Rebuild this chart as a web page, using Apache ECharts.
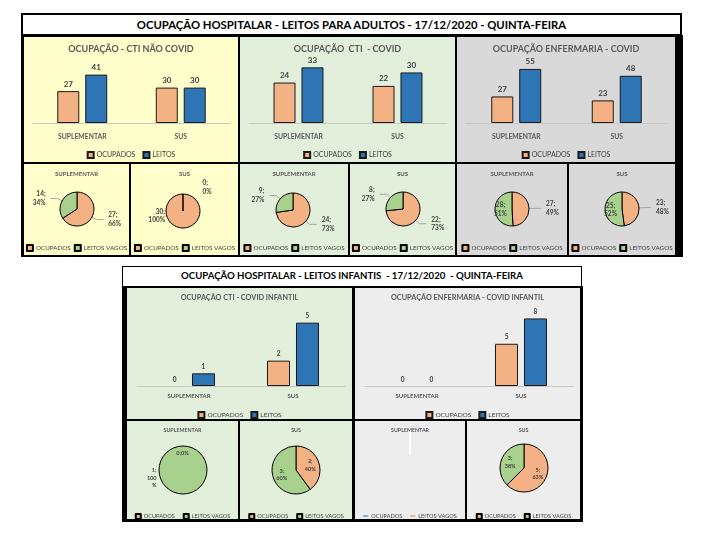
<!DOCTYPE html>
<html>
<head>
<meta charset="utf-8">
<title>Ocupação hospitalar</title>
<script src="https://cdn.jsdelivr.net/npm/echarts@6/dist/echarts.min.js"></script>
<style>
    body { margin: 0; width: 701px; height: 535px; background: #fff; position: relative; overflow: hidden; font-family: Lato, sans-serif; }
    .box { position: absolute; }
    .frame { position: absolute; background: #000; }
    .head { position: absolute; box-sizing: border-box; border: 2px solid #000; background: #fff; text-align: center; font-weight: bold; color: #000; white-space: pre; }
</style>
</head>
<body>
<!-- adultos -->
<div class="head" style="left:21px;top:13px;width:661px;height:23px;font-size:11.3px;line-height:19px;">OCUPAÇÃO HOSPITALAR - LEITOS PARA ADULTOS - 17/12/2020 - QUINTA-FEIRA</div>
<div class="frame" style="left:21px;top:35px;width:662px;height:222px;"></div>
<div id="bar1" class="box" style="left:24px;top:37px;width:214px;height:125px;"></div>
<div id="pie1" class="box" style="left:24px;top:164px;width:105px;height:91px;"></div>
<div id="pie2" class="box" style="left:131px;top:164px;width:107px;height:91px;"></div>
<div id="bar2" class="box" style="left:240px;top:37px;width:215px;height:125px;"></div>
<div id="pie3" class="box" style="left:240px;top:164px;width:108px;height:91px;"></div>
<div id="pie4" class="box" style="left:350px;top:164px;width:105px;height:91px;"></div>
<div id="bar3" class="box" style="left:457px;top:37px;width:218px;height:125px;"></div>
<div id="pie5" class="box" style="left:457px;top:164px;width:110px;height:91px;"></div>
<div id="pie6" class="box" style="left:569px;top:164px;width:106px;height:91px;"></div>

<!-- infantis -->
<div class="head" style="left:122px;top:266px;width:460px;height:21px;font-size:9.6px;line-height:17px;border-width:1.5px;">OCUPAÇÃO HOSPITALAR - LEITOS INFANTIS  - 17/12/2020  - QUINTA-FEIRA</div>
<div class="frame" style="left:122px;top:286px;width:461px;height:236px;"></div>
<div id="bar4" class="box" style="left:127px;top:288px;width:225px;height:131px;"></div>
<div id="pie7" class="box" style="left:127px;top:421px;width:111px;height:98px;"></div>
<div id="pie8" class="box" style="left:240px;top:421px;width:112px;height:98px;"></div>
<div id="bar5" class="box" style="left:355px;top:288px;width:225px;height:131px;"></div>
<div id="pie9" class="box" style="left:355px;top:421px;width:110px;height:98px;"></div>
<div id="pie10" class="box" style="left:467px;top:421px;width:113px;height:98px;"></div>

<script type="text/javascript">
    var categorias = ['SUPLEMENTAR', 'SUS'];

    // adultos
    var ctiNaoCovidOcupados = [27, 30];
    var ctiNaoCovidLeitos = [41, 30];
    var ctiNaoCovidVagos = [14, 0];

    var ctiCovidOcupados = [24, 22];
    var ctiCovidLeitos = [33, 30];
    var ctiCovidVagos = [9, 8];

    var enfCovidOcupados = [27, 23];
    var enfCovidLeitos = [55, 48];
    var enfCovidVagos = [28, 25];

    // infantis
    var ctiInfOcupados = [0, 2];
    var ctiInfLeitos = [1, 5];
    var ctiInfVagos = [1, 3];

    var enfInfOcupados = [0, 5];
    var enfInfLeitos = [0, 8];
    var enfInfVagos = [0, 3];

    var LARANJA = '#F4B183';
    var AZUL = '#2E75B6';
    var VERDE = '#A9D18E';
    var FONTE = 'Lato';

    // estilos dos blocos
    var barTopo = {
        grid: { left: 9, right: 8, top: 27, bottom: 39 },
        titleTop: 8, titleSize: 9, legendTop: 109, legendSize: 7, icon: 6, legendGap: 7,
        labelSize: 8, catSize: 6.8, catMargin: 10, barWidth: 22, barGap: '27%'
    };
    var barBaixo = {
        grid: { left: 10, right: 7, top: 22, bottom: 33 },
        titleTop: 6, titleSize: 7.3, legendTop: 118, legendSize: 6.5, icon: 6, legendGap: 7,
        labelSize: 6.5, catSize: 6, catMargin: 7, barWidth: 23, barGap: '26%'
    };
    var pieTopo = { titleTop: 7, titleSize: 6, legendTop: 75, legendSize: 6.3, icon: 6, legendGap: 3, labelSize: 6.5, radius: 17 };
    var pieBaixo = { titleTop: 7, titleSize: 5.3, legendTop: 87, legendSize: 5.6, icon: 5, legendGap: 8, labelSize: 5.5, radius: 24 };

    function semBordaNoZero(vals) {
        return vals.map(function (v) {
            return v === 0 ? { value: v, itemStyle: { borderWidth: 0 } } : v;
        });
    }

    function barChart(id, titulo, ocupados, leitos, bg, max, s) {
        var chart = echarts.init(document.getElementById(id));
        var rotulo = { show: true, position: 'top', distance: 3, fontSize: s.labelSize, fontWeight: 'bold', color: '#404040', fontFamily: FONTE };
        chart.setOption({
            animation: false,
            backgroundColor: bg,
            textStyle: { fontFamily: FONTE },
            title: {
                text: titulo, left: 'center', top: s.titleTop, padding: 0,
                textStyle: { fontSize: s.titleSize, fontWeight: 'bold', color: '#595959', fontFamily: FONTE }
            },
            legend: {
                top: s.legendTop, left: 'center', width: 400, icon: 'rect',
                itemWidth: s.icon, itemHeight: s.icon, itemGap: s.legendGap,
                textStyle: { fontSize: s.legendSize, color: '#404040', padding: [0, 0, 0, -2] },
                data: ['OCUPADOS', 'LEITOS']
            },
            grid: Object.assign({ outerBoundsMode: 'none' }, s.grid),
            xAxis: {
                type: 'category', data: categorias,
                axisLine: { lineStyle: { color: '#C8C8C8' } },
                axisTick: { show: false },
                axisLabel: { fontSize: s.catSize, fontWeight: 'bold', color: '#595959', margin: s.catMargin }
            },
            yAxis: { type: 'value', min: 0, max: max, show: false },
            series: [
                {
                    name: 'OCUPADOS', type: 'bar', data: semBordaNoZero(ocupados),
                    barWidth: s.barWidth, barGap: s.barGap,
                    itemStyle: { color: LARANJA, borderColor: '#1A1A1A', borderWidth: 1 },
                    label: rotulo
                },
                {
                    name: 'LEITOS', type: 'bar', data: semBordaNoZero(leitos),
                    barWidth: s.barWidth, barGap: s.barGap,
                    itemStyle: { color: AZUL, borderColor: '#1A1A1A', borderWidth: 1 },
                    label: rotulo
                }
            ]
        });
    }

    // texto do rótulo à moda do Excel: "valor;\npct%"
    function rotuloPadrao(v, p) { return v + ';\n' + p + '%'; }

    // pos: posição do rótulo de cada fatia; extra: ajustes opcionais de um gráfico
    function pieChart(id, titulo, ocupado, vago, bg, center, s, pos, extra) {
        extra = extra || {};
        var chart = echarts.init(document.getElementById(id));
        var cores = extra.cores || [LARANJA, VERDE];
        var fmt = extra.fmt || [rotuloPadrao, rotuloPadrao];
        var mover = extra.mover || [null, null];
        var semLinha = extra.semLinha || [false, false];
        var nomes = ['OCUPADOS', 'LEITOS VAGOS'];
        var valores = [ocupado, vago];
        var dados = valores.map(function (v, i) {
            return {
                name: nomes[i], value: v,
                itemStyle: { color: cores[i] },
                label: { position: pos[i] },
                labelLine: { show: !semLinha[i] }
            };
        });
        var legenda = {
            top: s.legendTop, left: 'center', width: 400, icon: 'rect',
            itemWidth: s.icon, itemHeight: s.icon, itemGap: s.legendGap,
            textStyle: { fontSize: s.legendSize, color: '#404040', padding: [0, 0, 0, -2] },
            data: nomes
        };
        if (extra.linhaLegenda) {
            legenda.itemHeight = 2;
            legenda.itemWidth = 5;
            legenda.itemStyle = { borderWidth: 0 };
        }
        chart.setOption({
            animation: false,
            backgroundColor: bg,
            textStyle: { fontFamily: FONTE },
            title: {
                text: titulo, left: 'center', top: s.titleTop, padding: 0,
                textStyle: { fontSize: s.titleSize, fontWeight: 'bold', color: '#595959', fontFamily: FONTE }
            },
            legend: legenda,
            series: [{
                type: 'pie', center: center, radius: s.radius,
                startAngle: 90, clockwise: true, percentPrecision: 2,
                stillShowZeroSum: false, avoidLabelOverlap: false,
                emphasis: { disabled: true },
                itemStyle: { borderColor: extra.borda || '#000', borderWidth: 1 },
                label: {
                    show: !extra.semRotulo, fontSize: s.labelSize, fontWeight: 'bold', color: '#404040',
                    lineHeight: s.labelSize + 2, fontFamily: FONTE,
                    formatter: function (p) { return fmt[p.dataIndex](p.value, Math.round(p.percent)); }
                },
                labelLine: { length: 5, length2: 7, lineStyle: { color: '#A6A6A6', width: 1 } },
                labelLayout: function (p) {
                    var f = mover[p.dataIndex];
                    return f ? f(p.rect) : {};
                },
                data: dados
            }]
        });
    }

    var AMARELO = '#FFFFCC', VERDE_FUNDO = '#E2EFDA', CINZA = '#D9D9D9', CINZA_CLARO = '#EDEDED';

    barChart('bar1', 'OCUPAÇÃO - CTI NÃO COVID', ctiNaoCovidOcupados, ctiNaoCovidLeitos, AMARELO, 50, barTopo);
    barChart('bar2', 'OCUPAÇÃO  CTI  - COVID', ctiCovidOcupados, ctiCovidLeitos, VERDE_FUNDO, 35, barTopo);
    barChart('bar3', 'OCUPAÇÃO ENFERMARIA - COVID', enfCovidOcupados, enfCovidLeitos, CINZA, 60, barTopo);
    barChart('bar4', 'OCUPAÇÃO CTI - COVID INFANTIL', ctiInfOcupados, ctiInfLeitos, VERDE_FUNDO, 6, barBaixo);
    barChart('bar5', 'OCUPAÇÃO ENFERMARIA - COVID INFANTIL', enfInfOcupados, enfInfLeitos, CINZA_CLARO, 9, barBaixo);

    pieChart('pie1', 'SUPLEMENTAR', ctiNaoCovidOcupados[0], ctiNaoCovidVagos[0], AMARELO, [53, 45], pieTopo, ['outside', 'outside']);
    pieChart('pie2', 'SUS', ctiNaoCovidOcupados[1], ctiNaoCovidVagos[1], AMARELO, [52, 47], pieTopo, ['outside', 'outside'], {
        semLinha: [false, true],
        mover: [
            function (r) { return { x: r.x + r.width / 2 - 18, y: r.y + r.height - 4, align: 'right', verticalAlign: 'bottom' }; },
            function (r) { return { x: r.x + 20, y: r.y - 6, align: 'left', verticalAlign: 'middle' }; }
        ]
    });
    pieChart('pie3', 'SUPLEMENTAR', ctiCovidOcupados[0], ctiCovidVagos[0], VERDE_FUNDO, [53, 46], pieTopo, ['outside', 'outside']);
    pieChart('pie4', 'SUS', ctiCovidOcupados[1], ctiCovidVagos[1], VERDE_FUNDO, [53, 45], pieTopo, ['outside', 'outside']);
    pieChart('pie5', 'SUPLEMENTAR', enfCovidOcupados[0], enfCovidVagos[0], CINZA, [55, 45], pieTopo, ['outside', 'inside']);
    pieChart('pie6', 'SUS', enfCovidOcupados[1], enfCovidVagos[1], CINZA, [53, 45], pieTopo, ['outside', 'inside']);

    pieChart('pie7', 'SUPLEMENTAR', ctiInfOcupados[0], ctiInfVagos[0], VERDE_FUNDO, [56, 49], pieBaixo, ['inside', 'outside'], {
        fmt: [function (v, p) { return v + ';' + p + '%'; }, function (v, p) { return v + ';\n' + p + '\n%'; }],
        semLinha: [false, true],
        mover: [
            function (r) { return { x: r.x, y: r.y + 8, align: 'center', verticalAlign: 'middle' }; },
            function (r) { return { x: r.x - 2, y: r.y + r.height / 2 + 8, align: 'right', verticalAlign: 'middle' }; }
        ]
    });
    pieChart('pie8', 'SUS', ctiInfOcupados[1], ctiInfVagos[1], VERDE_FUNDO, [56, 49], pieBaixo, ['inside', 'inside']);
    pieChart('pie9', 'SUPLEMENTAR', enfInfOcupados[0], enfInfVagos[0], CINZA_CLARO, [55, 34], pieBaixo, ['inside', 'inside'],
        { cores: ['#8EA9DB', LARANJA], semRotulo: true, linhaLegenda: true, borda: '#FFFFFF' });
    pieChart('pie10', 'SUS', enfInfOcupados[1], enfInfVagos[1], CINZA_CLARO, [57, 47], pieBaixo, ['inside', 'inside']);
</script>
</body>
</html>
